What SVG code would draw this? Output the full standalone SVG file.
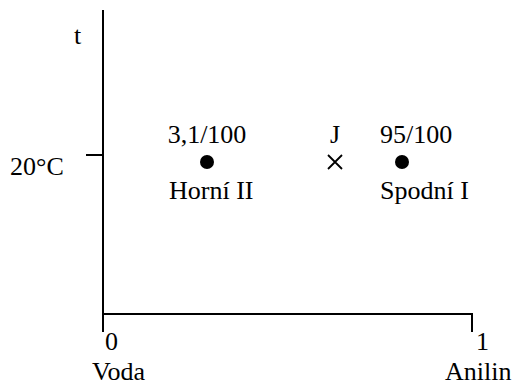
<svg xmlns="http://www.w3.org/2000/svg" width="513" height="387" viewBox="0 0 513 387" font-family="'Liberation Serif', serif" font-size="26">
  <style>
    .axis { stroke: #000; stroke-width: 2; fill: none; }
    .mark { stroke: #000; stroke-width: 1.8; fill: none; }
  </style>
  <rect width="513" height="387" fill="#fff"/>
  <g id="axes">
    <path class="axis" d="M103 10 V332 M103 314 H472 V332 M86 155 H103"/>
  </g>
  <g id="labels" fill="#000">
    <text x="74" y="44">t</text>
    <text x="10" y="175">20°C</text>
    <text x="105" y="350">0</text>
    <text x="476" y="350">1</text>
    <text x="92" y="380">Voda</text>
    <text x="445" y="380">Anilin</text>
  </g>
  <g id="horni">
    <text x="207" y="143" text-anchor="middle">3,1/100</text>
    <circle cx="207" cy="162" r="7"/>
    <text x="169" y="199">Horní II</text>
  </g>
  <g id="j">
    <text x="330" y="143">J</text>
    <path class="mark" d="M328 155 L342 169 M342 155 L328 169"/>
  </g>
  <g id="spodni">
    <text x="380" y="143">95/100</text>
    <circle cx="402" cy="162" r="7"/>
    <text x="380" y="199">Spodní I</text>
  </g>
</svg>
